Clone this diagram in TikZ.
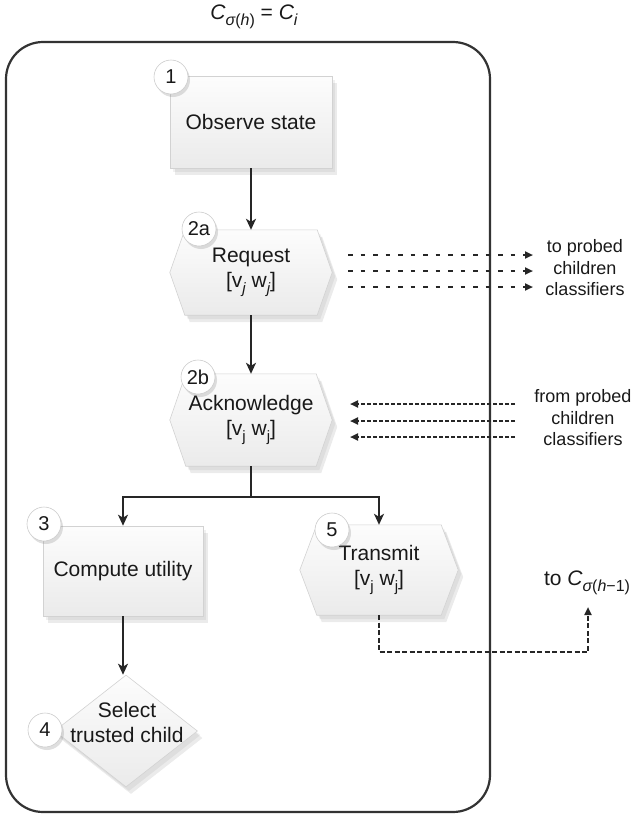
\documentclass[tikz,border=0pt]{standalone}
\usepackage{fontspec}
\setmainfont{Liberation Sans}
\usetikzlibrary{arrows.meta,shapes.geometric,shadows,calc}
\pgfdeclarelayer{bg}
\pgfsetlayers{bg,main}
\newcommand\lowsub[1]{\raisebox{-0.28em}{\fontsize{15}{15}\selectfont #1}}
\newcommand\lowsubb[1]{\raisebox{-0.3em}{\fontsize{16}{16}\selectfont #1}}
\newcommand\vwup{[v\lowsub{j} w\lowsub{j}]}
\newcommand\vwit{[v\lowsub{\itshape j} w\lowsub{\itshape j}]}
\newcommand\hexpath[2]{%
  \begin{pgfonlayer}{bg}
  \path[hexfill] (#1.north west) -- (#1.north east) -- ([xshift=#2]#1.east) -- (#1.south east) -- (#1.south west) -- ([xshift=-#2]#1.west) -- cycle;
  \end{pgfonlayer}}
\begin{document}
\begin{tikzpicture}[x=1pt,y=-1pt,
  every node/.style={font=\fontsize{21}{25}\selectfont, text=black!90},
  shade/.style={draw=gray!35, line width=0.6pt, top color=gray!2, bottom color=gray!16,
    drop shadow={opacity=0.12, shadow xshift=3pt, shadow yshift=-4pt},
    drop shadow={opacity=0.16, shadow xshift=5pt, shadow yshift=-7pt}},
  box/.style={shade, rectangle, align=center, inner sep=0pt},
  hexfill/.style={shade},
  txt/.style={align=center, inner sep=0pt},
  num/.style={circle, draw=gray!40, line width=0.6pt, fill=white, minimum size=34pt, inner sep=0pt,
    font=\fontsize{20}{20}\selectfont, drop shadow={opacity=0.25, shadow xshift=2pt, shadow yshift=-3pt}},
  frame/.style={draw=black!80, line width=2.2pt, rounded corners=37pt},
  arr/.style={line width=1.8pt, draw=black!85, -{Stealth[length=11pt,width=10pt,inset=3pt]}},
  solid line/.style={line width=1.8pt, draw=black!85},
  dreq/.style={line width=2pt, draw=black!85, dash pattern=on 4.5pt off 8pt, -{Triangle[length=8pt,width=7pt]}},
  dack/.style={line width=2pt, draw=black!85, dash pattern=on 4pt off 2pt, -{Triangle[length=8pt,width=7pt]}},
  dtr/.style={line width=2pt, draw=black!85, dash pattern=on 5pt off 2.5pt, -{Triangle[length=8pt,width=7pt]}},
  side/.style={align=center, inner sep=0pt, font=\fontsize{18}{21.5}\selectfont}
]
\useasboundingbox (0,0) rectangle (636,817);

% title
\node[txt] (title) at (254,17) {{\itshape C}\lowsubb{{\itshape σ}({\itshape h})} = {\itshape C}\lowsubb{\itshape i}};

% frame
\node[frame, minimum width=484pt, minimum height=770pt] (frame) at (248,427) {};

% step 1
\node[box, minimum width=162pt, minimum height=92pt] (b1) at (251,122) {Observe state};

% step 2a
\node[txt, minimum width=132pt, minimum height=85pt] (h2a) at (251,272.5) {Request\\\vwit};
\hexpath{h2a}{15pt}

% step 2b
\node[txt, minimum width=130pt, minimum height=92pt] (h2b) at (251,420) {Acknowledge\\\vwup};
\hexpath{h2b}{16pt}

% step 3
\node[box, minimum width=160pt, minimum height=90pt] (b3) at (123,571) {Compute utility};

% step 5
\node[txt, minimum width=124pt, minimum height=90pt] (h5) at (379,570) {Transmit\\\vwup};
\hexpath{h5}{17pt}

% step 4
\node[diamond, shade, minimum width=143pt, minimum height=112pt, inner sep=0pt] (d4) at (126,731) {};
\node[txt] (t4) at (127,722) {Select\\trusted child};

% number circles
\node[num] (n1) at (171,77) {1};
\node[num] (n2a) at (199,229) {2a};
\node[num] (n2b) at (198,377) {2b};
\node[num] (n3) at (44,524) {3};
\node[num] (n5) at (332,530) {5};
\node[num] (n4) at (45,730) {4};

% flow arrows
\draw[arr] (b1.south) -- (h2a.north);
\draw[arr] (h2a.south) -- (h2b.north);
\coordinate (j) at (251,497);
\draw[solid line] (h2b.south) -- (j);
\draw[arr] (j) -| (b3.north);
\draw[arr] (j) -| (h5.north);
\draw[arr] (b3.south) -- (b3.south |- d4.north);

% request arrows
\node[side] (lto) at (585,268) {to probed\\children\\classifiers};
\coordinate (ra1) at (348,255); \coordinate (rb1) at (533,255);
\coordinate (ra2) at (348,271); \coordinate (rb2) at (533,271);
\coordinate (ra3) at (348,287); \coordinate (rb3) at (533,287);
\draw[dreq] (ra1) -- (rb1);
\draw[dreq] (ra2) -- (rb2);
\draw[dreq] (ra3) -- (rb3);

% acknowledge arrows
\node[side] (lfrom) at (583,418) {from probed\\children\\classifiers};
\coordinate (aa1) at (515,404); \coordinate (ab1) at (350,404);
\coordinate (aa2) at (515,421); \coordinate (ab2) at (350,421);
\coordinate (aa3) at (515,437); \coordinate (ab3) at (350,437);
\draw[dack] (aa1) -- (ab1);
\draw[dack] (aa2) -- (ab2);
\draw[dack] (aa3) -- (ab3);

% transmit to parent
\node[txt] (lpar) at (587,583) {to {\itshape C}\lowsubb{{\itshape σ}({\itshape h}−1)}};
\coordinate (tip) at (588,607);
\draw[dtr] (h5.south) -- ++(0,37) -| (tip);
\end{tikzpicture}
\end{document}
